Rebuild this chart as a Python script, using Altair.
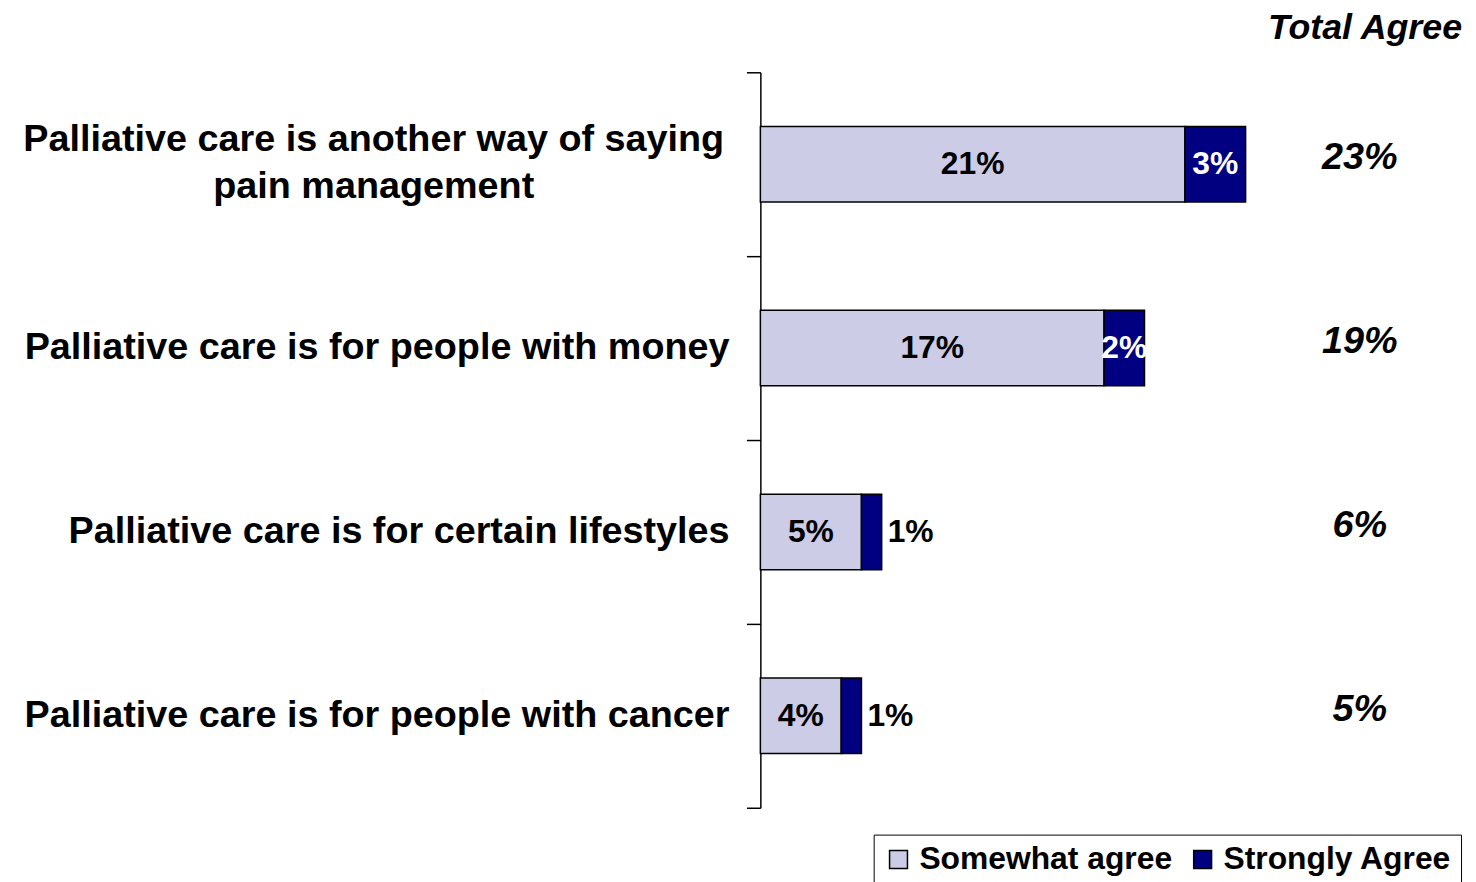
import altair as alt
import pandas as pd

categories = [
    "Palliative care is another way of saying pain management",
    "Palliative care is for people with money",
    "Palliative care is for certain lifestyles",
    "Palliative care is for people with cancer",
]
label_lines = [
    ["Palliative care is another way of saying", "pain management"],
    ["Palliative care is for people with money"],
    ["Palliative care is for certain lifestyles"],
    ["Palliative care is for people with cancer"],
]
series = ["Somewhat agree", "Strongly Agree"]
somewhat = [21, 17, 5, 4]
strongly = [3, 2, 1, 1]
totals = [23, 19, 6, 5]
colors = ["#CCCCE6", "#000080"]

FONT = "Liberation Sans"

rows = []
for i, c in enumerate(categories):
    start = 0
    for s, v in zip(series, [somewhat[i], strongly[i]]):
        rows.append({
            "category": c, "series": s, "order": series.index(s),
            "value": v, "start": start, "end": start + v,
            "mid": start + v / 2, "label": f"{v}%",
        })
        start += v
seg = pd.DataFrame(rows)

cat_df = pd.DataFrame({
    "category": categories,
    "lines": label_lines,
    "nlines": [len(l) for l in label_lines],
    "total": [f"{t}%" for t in totals],
})

W, H = 712, 740
xscale = alt.Scale(domain=[0, 35], nice=False, zero=True)
yscale = alt.Scale(domain=categories, paddingInner=0, paddingOuter=0)
yaxis = alt.Axis(title=None, labels=False, tickBand="extent", grid=False,
                 domainColor="black", domainWidth=1.5,
                 tickColor="black", tickWidth=1.5, tickSize=14)
yq = alt.Y("category:N", scale=yscale, sort=categories, axis=yaxis)

base = alt.Chart(seg)

bars = base.mark_bar(size=76, stroke="black", strokeWidth=1.5).encode(
    y=yq,
    x=alt.X("start:Q", scale=xscale, axis=None),
    x2="end:Q",
    color=alt.Color("series:N", scale=alt.Scale(domain=series, range=colors),
                    legend=alt.Legend(orient="none", legendX=114, legendY=767,
                                      direction="horizontal", title=None,
                                      symbolType="square", symbolSize=324,
                                      symbolStrokeColor="black", symbolStrokeWidth=1.5,
                                      labelFont=FONT, labelFontSize=32,
                                      labelFontWeight="bold", labelColor="black",
                                      strokeColor="black", fillColor="white",
                                      padding=9, columnPadding=14, labelOffset=5,
                                      labelLimit=500)),
    order=alt.Order("order:Q"),
)

inner_dark = base.transform_filter(
    "datum.series == 'Somewhat agree'"
).mark_text(font=FONT, fontSize=32, fontWeight="bold", color="black", baseline="middle").encode(
    y=yq, x=alt.X("mid:Q", scale=xscale, axis=None), text="label:N",
)

inner_white = base.transform_filter(
    "datum.series == 'Strongly Agree' && datum.value >= 2"
).mark_text(font=FONT, fontSize=32, fontWeight="bold", color="white", baseline="middle").encode(
    y=yq, x=alt.X("mid:Q", scale=xscale, axis=None), text="label:N",
)

outer = base.transform_filter(
    "datum.series == 'Strongly Agree' && datum.value < 2"
).mark_text(font=FONT, fontSize=32, fontWeight="bold", color="black",
            baseline="middle", align="left", dx=6).encode(
    y=yq, x=alt.X("end:Q", scale=xscale, axis=None), text="label:N",
)

cbase = alt.Chart(cat_df)

labels_right = cbase.transform_filter("datum.nlines == 1").mark_text(
    font=FONT, fontSize=38, fontWeight="bold", color="black",
    align="right", baseline="middle").encode(
    y=yq, x=alt.value(-31), text="lines",
)

labels_center = cbase.transform_filter("datum.nlines > 1").mark_text(
    font=FONT, fontSize=38, fontWeight="bold", color="black",
    align="center", baseline="middle", lineHeight=47, dy=-24).encode(
    y=yq, x=alt.value(-389), text="lines",
)

total_text = cbase.mark_text(
    font=FONT, fontSize=38, fontWeight="bold", fontStyle="italic", color="black",
    align="center", baseline="middle", dy=-6).encode(
    y=yq, x=alt.value(603), text="total:N",
)

header = alt.Chart(pd.DataFrame({"t": ["Total Agree"]})).mark_text(
    font=FONT, fontSize=36, fontWeight="bold", fontStyle="italic", color="black",
    align="right", baseline="middle").encode(
    x=alt.value(706), y=alt.value(-45), text="t:N",
)

chart = alt.layer(
    bars, inner_dark, inner_white, outer,
    labels_right, labels_center, total_text, header,
).properties(
    width=W, height=H,
    background="white",
    autosize=alt.AutoSizeParams(type="none"),
    padding={"left": 757, "top": 62, "right": 0, "bottom": 72},
).configure_view(strokeWidth=0, stroke="transparent").configure_axis(grid=False)

chart.save("out.html", embed_options={"renderer": "svg", "actions": False})
